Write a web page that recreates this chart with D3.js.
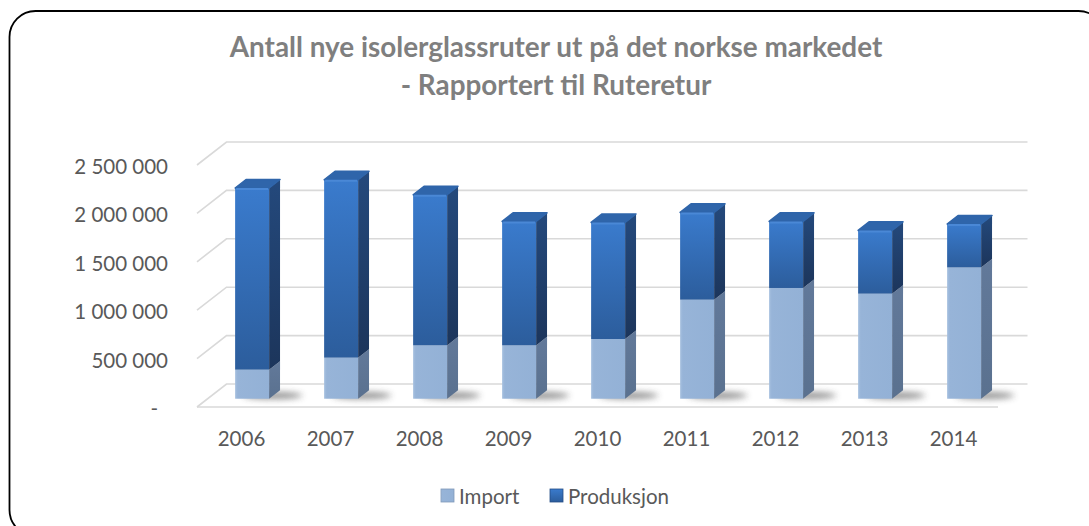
<!DOCTYPE html>
<html lang="no">
<head>
<meta charset="utf-8">
<title>Antall nye isolerglassruter</title>
<script src="https://cdn.jsdelivr.net/npm/d3@7"></script>
<style>
  body { margin: 0; background: #fff; }
  svg { display: block; font-family: Lato, "Open Sans", sans-serif; }
</style>
</head>
<body>
<div id="chart"></div>
<script>
// data
var years = ["2006", "2007", "2008", "2009", "2010", "2011", "2012", "2013", "2014"];
var importVals = [300000, 424000, 551000, 551000, 617000, 1023000, 1144000, 1085000, 1356000];
var produksjonVals = [1877000, 1838000, 1556000, 1281000, 1204000, 902000, 688000, 654000, 449000];
var yTicks = [0, 500000, 1000000, 1500000, 2000000, 2500000];
var titleLines = ["Antall nye isolerglassruter ut på det norkse markedet", "- Rapportert til Ruteretur"];
var seriesNames = ["Import", "Produksjon"];

var width = 1089, height = 526;
var svg = d3.select("#chart").append("svg")
    .attr("width", width)
    .attr("height", height);

var defs = svg.append("defs");

// gradients for bar faces
function vgrad(id, c1, c2) {
    var g = defs.append("linearGradient").attr("id", id)
        .attr("x1", 0).attr("y1", 0).attr("x2", 0).attr("y2", 1);
    g.append("stop").attr("offset", "0%").attr("stop-color", c1);
    g.append("stop").attr("offset", "100%").attr("stop-color", c2);
}
function hgrad(id, c1, c2, c3) {
    var g = defs.append("linearGradient").attr("id", id)
        .attr("x1", 0).attr("y1", 0).attr("x2", 1).attr("y2", 0);
    g.append("stop").attr("offset", "0%").attr("stop-color", c1);
    g.append("stop").attr("offset", "8%").attr("stop-color", c2);
    g.append("stop").attr("offset", "100%").attr("stop-color", c3);
}
vgrad("prodFront", "#3a7bcd", "#2c5d9c");
vgrad("prodSide", "#24497c", "#1c355b");
hgrad("impFront", "#a6c0df", "#97b4d8", "#93b1d6");
vgrad("impSide", "#62799a", "#5a718f");

var blur = defs.append("filter").attr("id", "shadowBlur")
    .attr("x", "-50%").attr("y", "-200%").attr("width", "200%").attr("height", "500%");
blur.append("feGaussianBlur").attr("stdDeviation", 3);

// chart frame
svg.append("rect")
    .attr("x", 9.5).attr("y", 11)
    .attr("width", 1095).attr("height", 525)
    .attr("rx", 26).attr("ry", 26)
    .attr("fill", "#fff")
    .attr("stroke", "#000")
    .attr("stroke-width", 1.8);

// 3d geometry
var depthX = 29.5, depthY = -23;
var f0 = 0.36, f1 = 0.73;   // bar front / back depth

var x = d3.scaleBand()
    .domain(years)
    .range([197, 998])
    .paddingInner(0.618)
    .paddingOuter(0.309);

var y = d3.scaleLinear()
    .domain([0, 2500000])
    .range([407, 165]);

function pt(px, v, f) {
    return [px + f * depthX, y(v) + f * depthY];
}

// gridlines (side wall + back wall)
var grid = svg.append("g")
    .attr("stroke", "#d9d9d9")
    .attr("stroke-width", 1.6)
    .attr("fill", "none");

yTicks.forEach(function (v) {
    var a = pt(x.range()[0], v, 0), b = pt(x.range()[0], v, 1), c = pt(x.range()[1], v, 1);
    grid.append("polyline").attr("points", [a, b, c].map(function (p) { return p.join(","); }).join(" "));
});
// front edge of floor
grid.append("line")
    .attr("x1", x.range()[0]).attr("x2", x.range()[1])
    .attr("y1", y(0)).attr("y2", y(0));

// y axis labels
var fmt = function (v) {
    return v === 0 ? "-" : d3.format(",")(v).replace(/,/g, " ");
};
svg.append("g").selectAll("text")
    .data(yTicks)
    .join("text")
    .attr("x", function (d) { return d === 0 ? 158 : 168; })
    .attr("y", function (d) { return y(d) + 1; })
    .attr("text-anchor", "end")
    .attr("dominant-baseline", "central")
    .attr("font-size", 20.5)
    .attr("fill", "#595959")
    .text(fmt);

// x axis labels
svg.append("g").selectAll("text")
    .data(years)
    .join("text")
    .attr("x", function (d) { return x(d) + x.bandwidth() / 2; })
    .attr("y", 438)
    .attr("text-anchor", "middle")
    .attr("dominant-baseline", "central")
    .attr("font-size", 20.5)
    .attr("fill", "#595959")
    .text(function (d) { return d; });

// bars
var bars = svg.append("g");
var poly = function (pts) { return pts.map(function (p) { return p.join(","); }).join(" "); };

years.forEach(function (yr, i) {
    var xl = x(yr), xr = x(yr) + x.bandwidth();
    var imp = importVals[i], tot = importVals[i] + produksjonVals[i];
    var g = bars.append("g");

    // floor shadow
    var s = pt(xr, 0, (f0 + f1) / 2);
    g.append("ellipse")
        .attr("cx", s[0] - 2).attr("cy", s[1] + 1)
        .attr("rx", 30).attr("ry", 3.5)
        .attr("fill", "#3a3a3a")
        .attr("opacity", 0.55)
        .attr("filter", "url(#shadowBlur)");

    var segs = [
        { v0: 0, v1: imp, front: "url(#impFront)", side: "url(#impSide)" },
        { v0: imp, v1: tot, front: "url(#prodFront)", side: "url(#prodSide)" }
    ];
    segs.forEach(function (sg) {
        var a = pt(xl, sg.v1, f0), b = pt(xr, sg.v0, f0);
        g.append("rect")
            .attr("x", a[0]).attr("y", a[1])
            .attr("width", b[0] - a[0]).attr("height", b[1] - a[1])
            .attr("fill", sg.front);
        g.append("polygon")
            .attr("points", poly([pt(xr, sg.v1, f0), pt(xr, sg.v1, f1), pt(xr, sg.v0, f1), pt(xr, sg.v0, f0)]))
            .attr("fill", sg.side);
    });
    // top face
    g.append("polygon")
        .attr("points", poly([pt(xl, tot, f0), pt(xl, tot, f1), pt(xr, tot, f1), pt(xr, tot, f0)]))
        .attr("fill", "#2f65aa")
        .attr("stroke", "#2f65aa")
        .attr("stroke-width", 1.5)
        .attr("stroke-linejoin", "round");
    // soft bevel highlight along the top front edge
    var tl = pt(xl, tot, f0), tr = pt(xr, tot, f0);
    g.append("line")
        .attr("x1", tl[0] + 1).attr("x2", tr[0] - 1)
        .attr("y1", tl[1] + 1).attr("y2", tr[1] + 1)
        .attr("stroke", "#4a88d6").attr("stroke-width", 2);
});

// title
var title = svg.append("g")
    .attr("font-weight", "bold")
    .attr("fill", "#7f7f7f")
    .attr("text-anchor", "middle");
title.selectAll("text")
    .data(titleLines)
    .join("text")
    .attr("x", 556)
    .attr("y", function (d, i) { return 57 + i * 38; })
    .attr("font-size", 24)
    .text(function (d) { return d; });
// match the reference title width
var t0 = title.select("text").node();
var scaleTitle = 653 / t0.getComputedTextLength();
title.selectAll("text").attr("font-size", 24 * scaleTitle);

// legend
var legend = svg.append("g");
var legX = [441, 550];
var legFill = ["url(#impFront)", "url(#prodFront)"];
seriesNames.forEach(function (name, i) {
    legend.append("rect")
        .attr("x", legX[i]).attr("y", 489)
        .attr("width", 13).attr("height", 13)
        .attr("fill", legFill[i])
        .attr("stroke", i === 0 ? "#7f98b8" : "#244d85")
        .attr("stroke-width", 0.8);
    legend.append("text")
        .attr("x", legX[i] + 18).attr("y", 496)
        .attr("dominant-baseline", "central")
        .attr("font-size", 20.5)
        .attr("fill", "#595959")
        .text(name);
});
</script>
</body>
</html>
